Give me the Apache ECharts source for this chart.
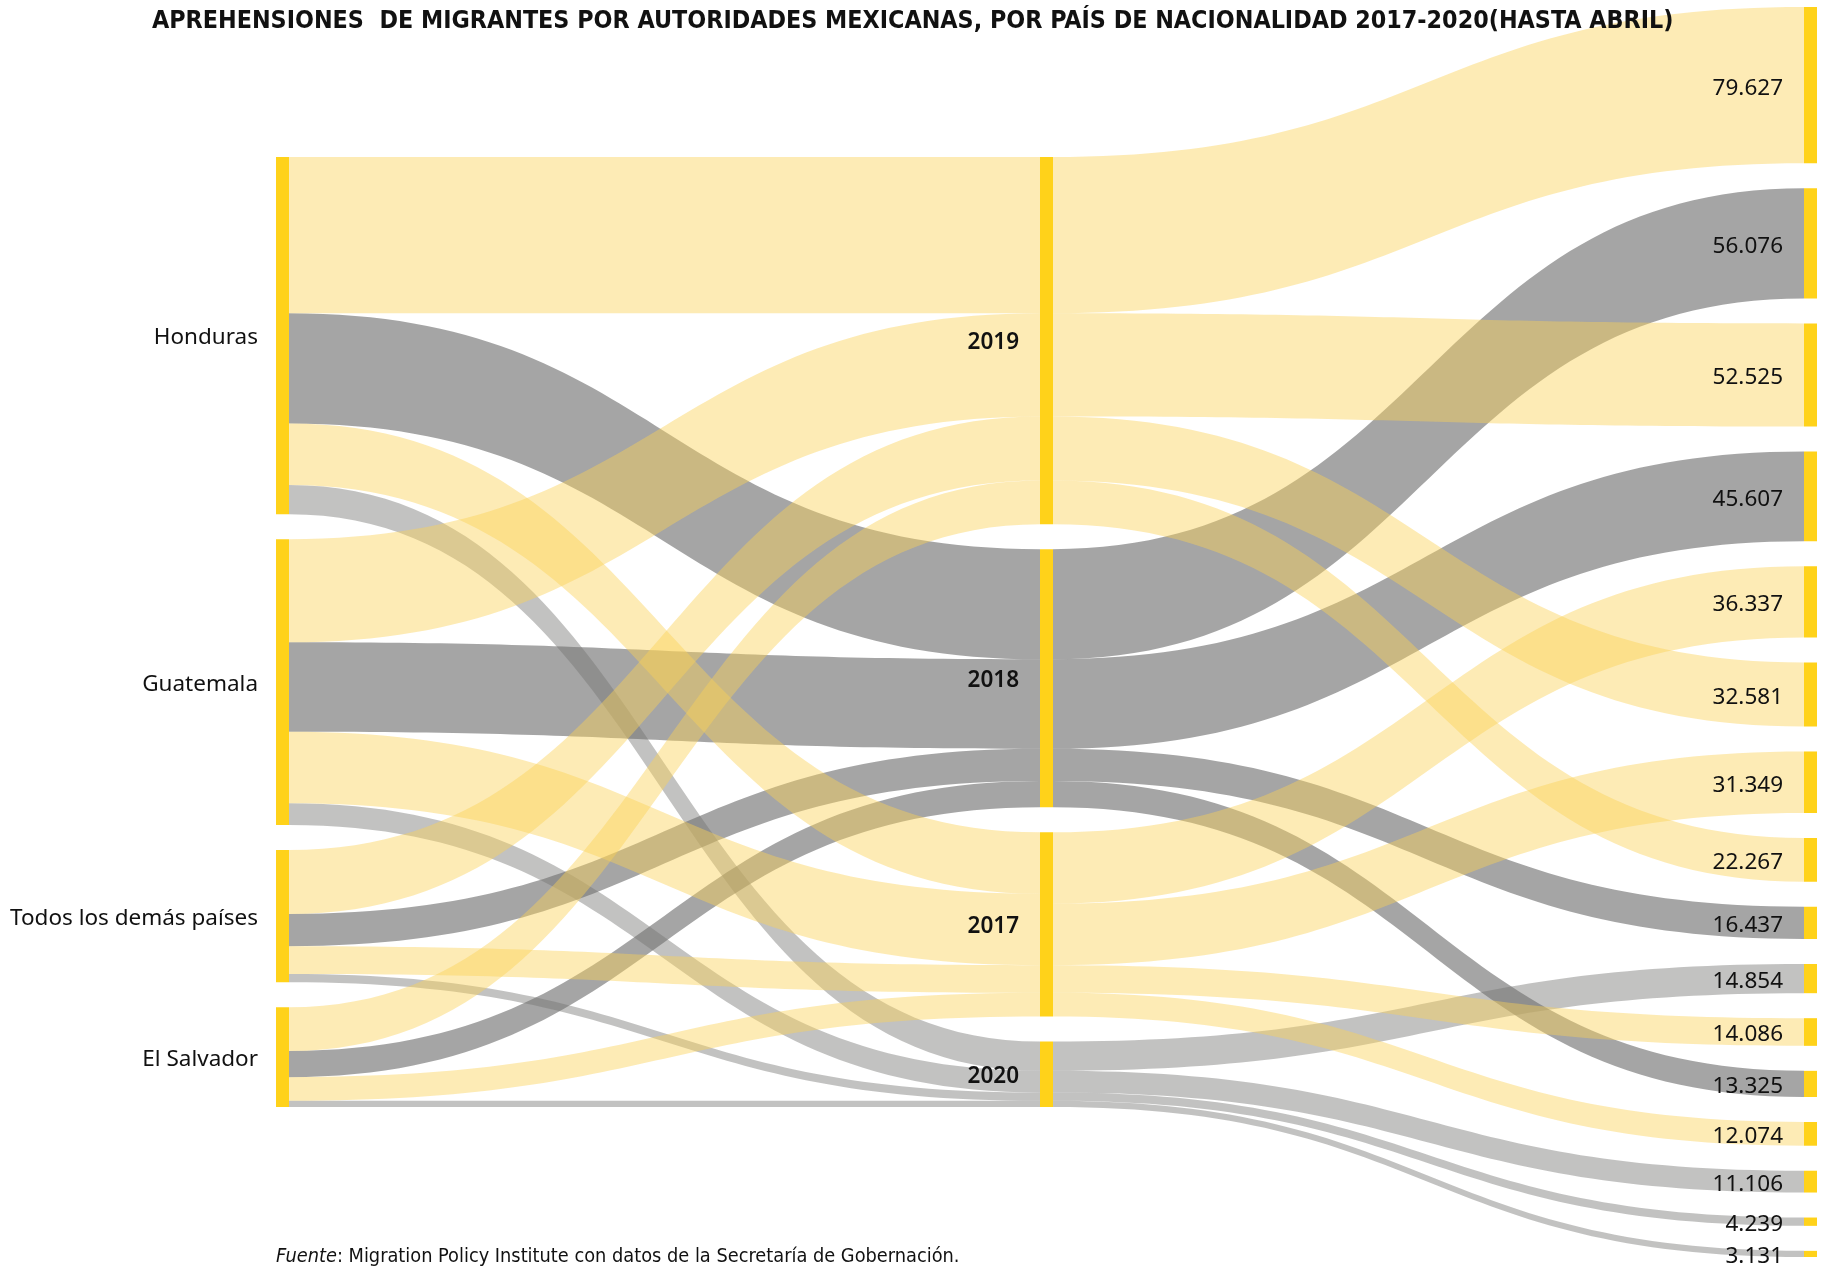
<!DOCTYPE html>
<html>
<head>
<meta charset="utf-8">
<script src="https://cdn.jsdelivr.net/npm/echarts@6.0.0/dist/echarts.min.js"></script>
<style>
html, body { margin: 0; padding: 0; background: #ffffff; }
#chart { width: 1829px; height: 1269px; }
</style>
</head>
<body>
<div id="chart"></div>
<script>
// ---------------- DATA ----------------
const countries = ['Honduras', 'Guatemala', 'Todos los demás países', 'El Salvador'];
const years = ['2019', '2018', '2017', '2020'];
// apprehensions per year, in the order of `countries`
const apprehensions2019 = [79627, 52525, 32581, 22267];
const apprehensions2018 = [56076, 45607, 16437, 13325];
const apprehensions2017 = [31349, 36337, 14086, 12074];
const apprehensions2020 = [14854, 11106, 4239, 3131];
const titleText = 'APREHENSIONES  DE MIGRANTES POR AUTORIDADES MEXICANAS, POR PAÍS DE NACIONALIDAD 2017-2020(HASTA ABRIL)';
const sourceLabel = 'Fuente';
const sourceText = ': Migration Policy Institute con datos de la Secretaría de Gobernación.';

// ---------------- LAYOUT / STYLE ----------------
const CW = 1829, CH = 1269;
const LAY = { left: 276, right: 12, top: 7, bottom: 12 };
const NODE_W = 13, NODE_GAP = 25;
const NODE_COLOR = '#FFD21A';
const LINK_OPACITY = 0.44;
const yearColor = { '2019': '#FAD257', '2017': '#FAD257', '2018': '#333131', '2020': '#757372' };
const drawOrder = ['2018', '2020', '2017', '2019'];
const FONT = "'Noto Sans', 'Open Sans', sans-serif";
const NARROW = "'Liberation Sans Narrow', 'DejaVu Sans Condensed', 'Noto Sans', sans-serif";

const byYear = { '2019': apprehensions2019, '2018': apprehensions2018, '2017': apprehensions2017, '2020': apprehensions2020 };
const fmt = v => String(v).replace(/\B(?=(\d{3})+(?!\d))/g, '.');

// right-hand column: one node per (country, year) value, sorted large to small
const allValues = [];
years.forEach(y => byYear[y].forEach(v => allValues.push(v)));
const rightValues = allValues.slice().sort((a, b) => b - a);

// invisible spacer so that the country and year columns are centred like the original
const layoutH = CH - LAY.top - LAY.bottom;
const total = allValues.reduce((a, b) => a + b, 0);
const ky = (layoutH - (rightValues.length - 1) * NODE_GAP) / total;
const colH = total * ky + (countries.length - 1) * NODE_GAP;
const padValue = ((layoutH - colH) / 2 - NODE_GAP) / ky;

const hidden = { itemStyle: { opacity: 0 }, label: { show: false } };
const nodes = [];
nodes.push(Object.assign({ name: '__padL', depth: 0 }, hidden));
countries.forEach(c => nodes.push({ name: c, depth: 0 }));
nodes.push(Object.assign({ name: '__padM', depth: 1 }, hidden));
years.forEach(y => nodes.push({
  name: y, depth: 1,
  label: { fontWeight: 600, distance: 21 }
}));
rightValues.forEach(v => nodes.push({ name: fmt(v), depth: 2, label: { distance: 21, offset: [0, 3] } }));

const links = [{ source: '__padL', target: '__padM', value: padValue, lineStyle: { opacity: 0 } }];
drawOrder.forEach(y => {
  countries.forEach((c, i) => {
    const v = byYear[y][i];
    links.push({ source: c, target: y, value: v, lineStyle: { color: yearColor[y], opacity: LINK_OPACITY } });
  });
  countries.forEach((c, i) => {
    const v = byYear[y][i];
    links.push({ source: y, target: fmt(v), value: v, lineStyle: { color: yearColor[y], opacity: LINK_OPACITY } });
  });
});

const chart = echarts.init(document.getElementById('chart'), null, { renderer: 'canvas' });
chart.setOption({
  backgroundColor: '#ffffff',
  animation: false,
  title: [
    {
      text: titleText,
      left: 152, top: 8, padding: 0,
      textStyle: { fontFamily: NARROW, fontWeight: 'bold', fontSize: 24.8, lineHeight: 28, color: '#111111' }
    },
    {
      text: '{i|' + sourceLabel + '}{n|' + sourceText + '}',
      left: 276, top: 1245, padding: 0,
      textStyle: {
        fontFamily: NARROW, fontWeight: 'normal', fontSize: 19.8, lineHeight: 24, color: '#111111',
        rich: {
          i: { fontFamily: NARROW, fontStyle: 'italic', fontWeight: 'normal', fontSize: 19.8, color: '#111111' },
          n: { fontFamily: NARROW, fontWeight: 'normal', fontSize: 19.8, color: '#111111' }
        }
      }
    }
  ],
  series: [{
    type: 'sankey',
    left: LAY.left, right: LAY.right, top: LAY.top, bottom: LAY.bottom,
    nodeWidth: NODE_W,
    nodeGap: NODE_GAP,
    nodeAlign: 'left',
    layoutIterations: 0,
    draggable: false,
    emphasis: { disabled: true },
    itemStyle: { color: NODE_COLOR, borderWidth: 0 },
    lineStyle: { curveness: 0.5 },
    label: {
      position: 'left', distance: 18, offset: [0, 2],
      fontFamily: FONT, fontSize: 22.5, color: '#111111'
    },
    data: nodes,
    links: links
  }]
});
</script>
</body>
</html>
